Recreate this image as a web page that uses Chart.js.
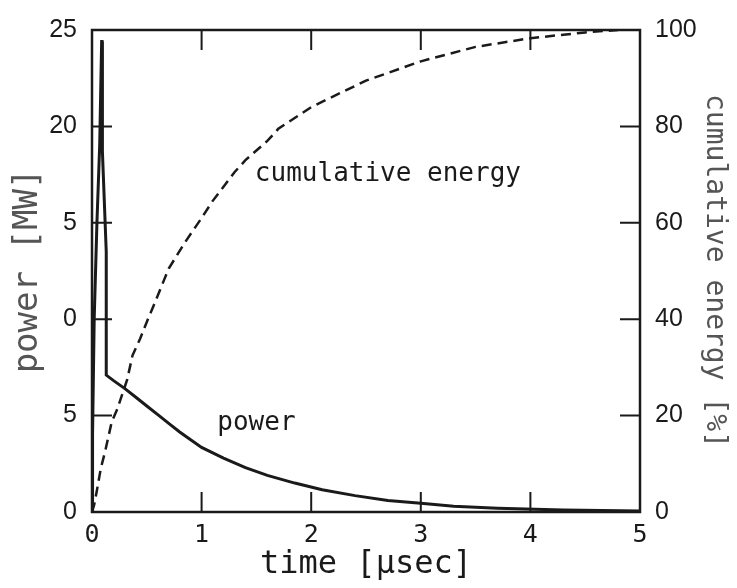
<!DOCTYPE html>
<html>
<head>
<meta charset="utf-8">
<script src="https://cdn.jsdelivr.net/npm/chart.js@4.4.1/dist/chart.umd.min.js"></script>
<style>
  body { margin: 0; background: #fff; }
</style>
</head>
<body>
<canvas id="pulse" width="737" height="588"></canvas>
<script>
// values
var powerTime = [0, 0.005, 0.02, 0.045, 0.07, 0.088, 0.092, 0.095, 0.13, 0.13, 0.2, 0.3, 0.4, 0.5, 0.6, 0.7, 0.8, 0.9, 1.0, 1.2, 1.4, 1.6, 1.85, 2.1, 2.4, 2.7, 3.0, 3.3, 3.7, 4.3, 5.0];
var powerMW = [0, 4, 10, 15, 19, 24.4, 24.4, 18.7, 13.5, 7.1, 6.8, 6.4, 5.95, 5.5, 5.05, 4.6, 4.15, 3.75, 3.35, 2.8, 2.3, 1.9, 1.5, 1.15, 0.85, 0.6, 0.45, 0.3, 0.2, 0.1, 0.05];

var energyTime = [0, 0.02, 0.045, 0.08, 0.12, 0.18, 0.23, 0.32, 0.37, 0.44, 0.51, 0.56, 0.7, 0.85, 1.0, 1.1, 1.2, 1.3, 1.4, 1.5, 1.6, 1.7, 2.0, 2.5, 3.0, 3.5, 4.0, 4.5, 4.8];
var energyPct = [0, 1.5, 4.5, 9, 12.6, 18.7, 21.3, 27.4, 32.5, 36, 40, 42.7, 50.5, 56, 61, 64.5, 67.5, 70.5, 73, 75, 77, 79.5, 84, 89.5, 93.5, 96.5, 98.3, 99.5, 100];

var powerTicks = ['0', '5', '0', '5', '20', '25'];
var energyTicks = ['0', '20', '40', '60', '80', '100'];
var timeTicks = ['0', '1', '2', '3', '4', '5'];

var ink = '#1a1a1a';
var grey = '#555555';

function pairs(xs, ys) {
  return xs.map(function (x, i) { return { x: x, y: ys[i] }; });
}

// box, inward tick marks and the two curve labels
var frame = {
  id: 'frame',
  afterDatasetsDraw: function (chart) {
    var ctx = chart.ctx, a = chart.chartArea;
    var sx = chart.scales.x, sy = chart.scales.y, sy2 = chart.scales.y2;
    ctx.save();
    ctx.strokeStyle = ink;
    ctx.lineWidth = 2.5;
    ctx.strokeRect(a.left, a.top, a.right - a.left, a.bottom - a.top);
    ctx.lineWidth = 2;
    ctx.beginPath();
    sx.ticks.forEach(function (t) {
      var px = sx.getPixelForValue(t.value);
      ctx.moveTo(px, a.bottom); ctx.lineTo(px, a.bottom - 20);
      ctx.moveTo(px, a.top); ctx.lineTo(px, a.top + 20);
    });
    sy.ticks.forEach(function (t) {
      var py = sy.getPixelForValue(t.value);
      ctx.moveTo(a.left, py); ctx.lineTo(a.left + 20, py);
    });
    sy2.ticks.forEach(function (t) {
      var py = sy2.getPixelForValue(t.value);
      ctx.moveTo(a.right, py); ctx.lineTo(a.right - 20, py);
    });
    ctx.stroke();

    ctx.fillStyle = ink;
    ctx.font = '26px "DejaVu Sans Mono"';
    ctx.textAlign = 'center';
    ctx.textBaseline = 'middle';
    ctx.fillText('cumulative energy', sx.getPixelForValue(2.7), sy.getPixelForValue(17.5));
    ctx.fillText('power', sx.getPixelForValue(1.5), sy.getPixelForValue(4.6));
    ctx.restore();
  }
};

var chart = new Chart(document.getElementById('pulse'), {
  type: 'line',
  data: {
    datasets: [
      {
        label: 'power',
        data: pairs(powerTime, powerMW),
        yAxisID: 'y',
        borderColor: ink,
        borderWidth: 3,
        pointRadius: 0,
        tension: 0,
        fill: false
      },
      {
        label: 'cumulative energy',
        data: pairs(energyTime, energyPct),
        yAxisID: 'y2',
        borderColor: ink,
        borderWidth: 2.5,
        borderDash: [10, 6],
        pointRadius: 0,
        tension: 0,
        fill: false
      }
    ]
  },
  options: {
    responsive: false,
    animation: false,
    layout: { padding: { top: 20 } },
    plugins: { legend: { display: false }, tooltip: { enabled: false } },
    scales: {
      x: {
        type: 'linear', min: 0, max: 5,
        grid: { display: false, drawTicks: false },
        border: { display: false },
        ticks: {
          stepSize: 1, padding: 8, color: ink, maxRotation: 0, autoSkip: false,
          font: { family: 'DejaVu Sans Mono', size: 25 },
          callback: function (v) { return timeTicks[Math.round(v)]; }
        },
        title: {
          display: true, text: 'time [μsec]', color: ink,
          font: { family: 'DejaVu Sans Mono', size: 32 },
          padding: { top: 0, bottom: 4 }
        },
        afterFit: function (s) { s.height = 76; }
      },
      y: {
        position: 'left', min: 0, max: 25,
        grid: { display: false, drawTicks: false },
        border: { display: false },
        ticks: {
          stepSize: 5, padding: 15, color: ink,
          font: { family: 'Liberation Sans', size: 25 },
          callback: function (v) { return powerTicks[Math.round(v / 5)]; }
        },
        title: {
          display: true, text: 'power [MW]', color: grey,
          font: { family: 'DejaVu Sans Mono', size: 34 },
          padding: { top: 8, bottom: 0 }
        },
        afterFit: function (s) { s.width = 92; }
      },
      y2: {
        position: 'right', min: 0, max: 100,
        grid: { display: false, drawTicks: false },
        border: { display: false },
        ticks: {
          stepSize: 20, padding: 15, color: ink,
          font: { family: 'Liberation Sans', size: 25 },
          callback: function (v) { return energyTicks[Math.round(v / 20)]; }
        },
        title: {
          display: true, text: 'cumulative energy [%]', color: grey,
          font: { family: 'DejaVu Sans Mono', size: 28 },
          padding: { top: 6, bottom: 0 }
        },
        afterFit: function (s) { s.width = 97; }
      }
    }
  },
  plugins: [frame]
});
</script>
</body>
</html>
